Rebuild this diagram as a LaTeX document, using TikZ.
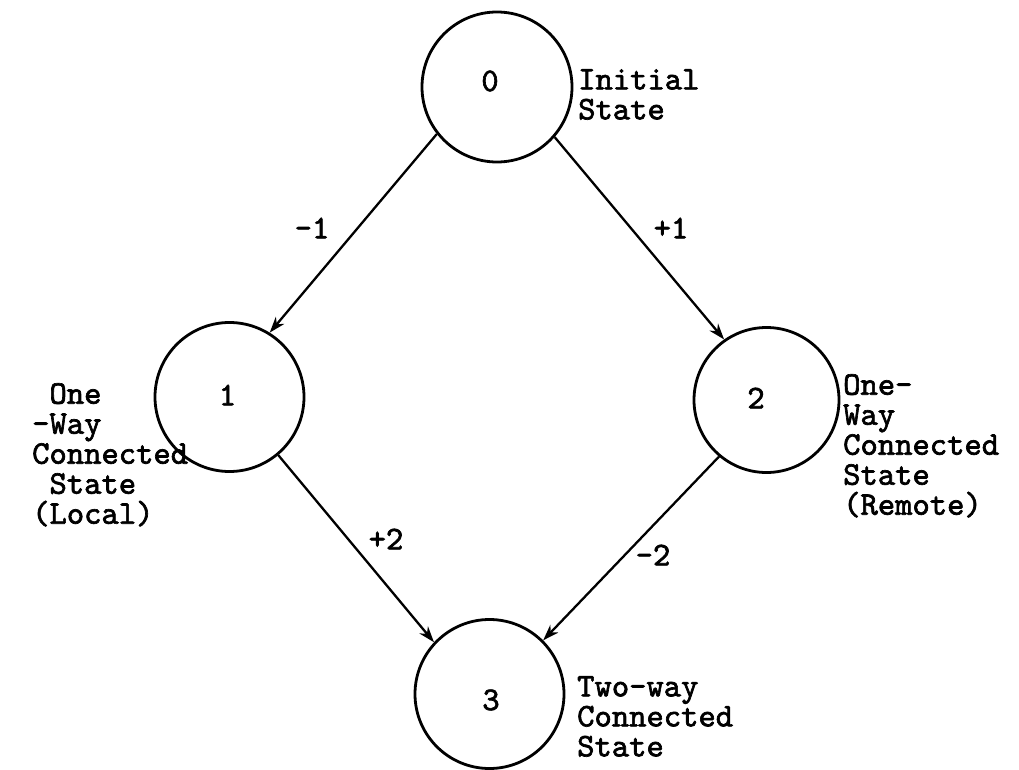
\documentclass[tikz,border=0pt]{standalone}
\usepackage{fontspec}
\newfontfamily\twfont{lmmono10-regular.otf}[FakeBold=2]
\usetikzlibrary{arrows.meta}
\tikzset{
  stnode/.style={circle, draw, line width=2.8pt, inner sep=0pt},
  txt/.style={font=\fontsize{33}{30}\selectfont\twfont, inner sep=0pt},
  lbl/.style={txt, align=left, anchor=north west},
  conn/.style={line width=2.3pt, -{Stealth[length=16pt,width=11pt,inset=5pt]}}
}
\begin{document}
\begin{tikzpicture}[x=1pt,y=-1pt]
\useasboundingbox[fill=white] (0,0) rectangle (1019,770);
% states
\node[stnode, minimum size=150pt] (c0) at (497,87) {};
\node[stnode, minimum size=149pt] (c1) at (229.5,397) {};
\node[stnode, minimum size=145pt] (c2) at (766.5,400) {};
\node[stnode, minimum size=149pt] (c3) at (489.5,694) {};
% numbers
\node[txt] (n0) at (490,81) {0};
\node[txt] (n1) at (227.5,395) {1};
\node[txt] (n2) at (756,398) {2};
\node[txt] (n3) at (491,700) {3};
% descriptions
\node[lbl] (l0) at (578,69) {Initial\\State};
\node[lbl] (l1) at (32,383) {\hphantom{-}One\\-Way\\Connected\\\hphantom{-}State\\(Local)};
\node[lbl] (l2) at (843,374) {One-\\Way\\Connected\\State\\(Remote)};
\node[lbl] (l3) at (577,676) {Two-way\\Connected\\State};
% transitions
\draw[conn] (c0.218) -- (c1.58);
\draw[conn] (c0.319) -- (c2.125);
\draw[conn] (c1.310) -- (c3.137);
\draw[conn] (c2.230) -- (c3.45);
% transition labels
\node[txt] (e01) at (312,228) {-1};
\node[txt] (e02) at (671,228) {+1};
\node[txt] (e13) at (386,539) {+2};
\node[txt] (e23) at (653,555) {-2};
\end{tikzpicture}
\end{document}
